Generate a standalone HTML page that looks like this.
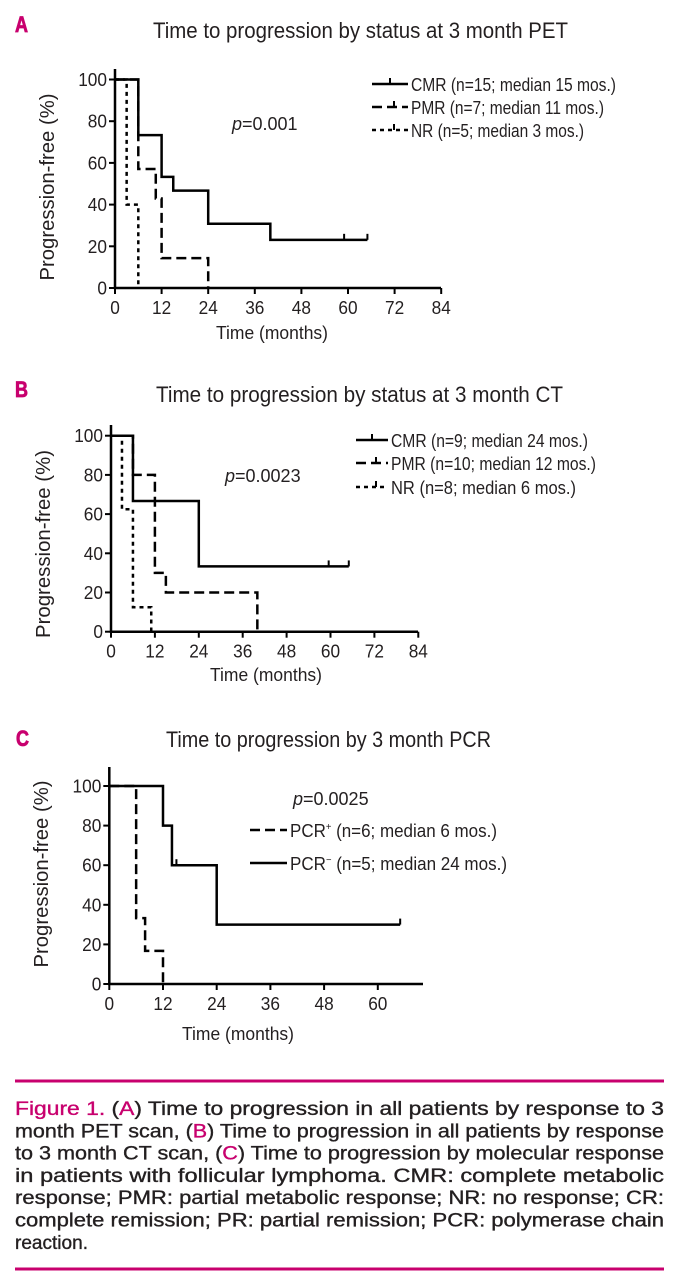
<!DOCTYPE html>
<html><head><meta charset="utf-8"><style>
html,body{margin:0;padding:0;background:#fff;}
svg{display:block;font-family:"Liberation Sans Narrow","Liberation Sans",sans-serif;}
</style></head><body>
<svg id="fig" width="679" height="1280" viewBox="0 0 679 1280" xmlns="http://www.w3.org/2000/svg"></svg>
<script>
// ---- data ----
const yTicks = [0,20,40,60,80,100];
const xTicksAB = [0,12,24,36,48,60,72,84];
const xTicksC = [0,12,24,36,48,60];
// Panel A
const aCmrT = [6,12,15,24,40];   const aCmrS = [73.3,53.3,46.7,30.8,23.1]; const aCmrEnd = 65; const aCmrCens = [59,65];
const aPmrT = [6,10.5,12,24];    const aPmrS = [57.1,42.9,14.3,0];
const aNrT  = [3,6];             const aNrS  = [40,0];
// Panel B
const bCmrT = [6,24];            const bCmrS = [66.7,33.3]; const bCmrEnd = 65; const bCmrCens = [59.5,65];
const bPmrT = [6,12,15,40];      const bPmrS = [80,30,20,0];
const bNrT  = [3,6,11];          const bNrS  = [62.5,12.5,0];
// Panel C
const cNegT = [12,14,24];        const cNegS = [80,60,30]; const cNegEnd = 65; const cNegCens = [15,65];
const cPosT = [6,8,12];          const cPosS = [33.3,16.7,0];

const NS="http://www.w3.org/2000/svg";
const svg=document.getElementById('fig');
function el(tag,attrs,parent){const e=document.createElementNS(NS,tag);for(const k in attrs)e.setAttribute(k,attrs[k]);(parent||svg).appendChild(e);return e;}
function txt(s,x,y,size,len,opts,parent){opts=opts||{};const e=el('text',{x:x,y:y,'font-size':size,fill:opts.fill||'#231f20'},parent);
  if(len){e.setAttribute('textLength',len);e.setAttribute('lengthAdjust','spacingAndGlyphs');}
  if(opts.anchor)e.setAttribute('text-anchor',opts.anchor);
  if(opts.weight)e.setAttribute('font-weight',opts.weight);
  if(opts.transform)e.setAttribute('transform',opts.transform);
  e.textContent=s;return e;}
const MAG='#c8006e';

function panel(cfg){
  const g=el('g',{});
  
  
  const X=t=>cfg.ox+t*cfg.per12/12;
  const Y=v=>cfg.y0-(cfg.y0-cfg.y100)*v/100;
  const L=txt(cfg.letter,cfg.lx,cfg.ly,22,13,{fill:MAG,weight:'bold'},g);
  L.setAttribute('stroke',MAG);L.setAttribute('stroke-width','0.8');
  
  
  const T=txt(cfg.title,cfg.tx,cfg.ty,22,cfg.tlen,{},g);
  
  
  const ax=el('path',{d:`M${cfg.ox},${cfg.axTop} V${cfg.y0} H${cfg.axRight}`,stroke:'#000','stroke-width':2.5,fill:'none'},g);
  
  
  yTicks.forEach(v=>{
    el('line',{x1:cfg.ox-6,x2:cfg.ox,y1:Y(v),y2:Y(v),stroke:'#000','stroke-width':2},g);
    const s=String(v);const t=txt(s,cfg.ox-8,Y(v)+6.5,18,s.length*9.6,{anchor:'end'},g);
    
    
  });
  cfg.xt.forEach(v=>{
    el('line',{x1:X(v),x2:X(v),y1:cfg.y0,y2:cfg.y0+6,stroke:'#000','stroke-width':2},g);
    const s=String(v);const t=txt(s,X(v),cfg.y0+26,18,s.length*9.6,{anchor:'middle'},g);
    
    
  });
  const xt=txt('Time (months)',cfg.xtx,cfg.xty,18,112,{anchor:'middle'},g);
  
  
  const yt=txt('Progression-free (%)',0,0,20,cfg.ytlen,{anchor:'middle',transform:`translate(${cfg.ytx},${cfg.yty}) rotate(-90)`},g);
  
  
  const p=el('text',{x:cfg.px,y:cfg.py,'font-size':18,fill:'#231f20'},g);
  
  
  const pi=el('tspan',{'font-style':'italic'},p);pi.textContent='p';
  const pr=el('tspan',{},p);pr.textContent=cfg.p;
  cfg.series.forEach(s=>{
    let d=`M${X(0)},${Y(100)}`;
    s.t.forEach((t,i)=>{d+=` H${X(t)} V${Y(s.s[i])}`;});
    if(s.end&&s.end>s.t[s.t.length-1])d+=` H${X(s.end)}`;
    const path=el('path',{d:d,stroke:'#000','stroke-width':2.5,fill:'none'},g);
    if(s.dash)path.setAttribute('stroke-dasharray',s.dash);
    
    
    (s.cens||[]).forEach(c=>{
      let lvl=100;s.t.forEach((t,i)=>{if(t<=c)lvl=s.s[i];});
      const m=el('line',{x1:X(c),x2:X(c),y1:Y(lvl),y2:Y(lvl)-6,stroke:'#000','stroke-width':2},g);
      
      
    });
    const lg=el('g',{},g);
    
    
    const ly=s.ly;
    const ll=el('line',{x1:cfg.lgx1,x2:cfg.lgx2,y1:ly-7,y2:ly-7,stroke:'#000','stroke-width':2.5},lg);
    if(s.dash)ll.setAttribute('stroke-dasharray',s.dash);
    if(s.lgTick)el('line',{x1:(cfg.lgx1+cfg.lgx2)/2+(s.dash?4:0),x2:(cfg.lgx1+cfg.lgx2)/2+(s.dash?4:0),y1:ly-7,y2:ly-13,stroke:'#000','stroke-width':2},lg);
    const lt=el('text',{x:cfg.lgx2+3,y:ly,'font-size':18,fill:'#231f20',textLength:s.llen,lengthAdjust:'spacingAndGlyphs'},lg);
    if(s.sup){const a=el('tspan',{},lt);a.textContent='PCR';const b=el('tspan',{'font-size':10,dy:-7},lt);b.textContent=s.sup;const c=el('tspan',{dy:7},lt);c.textContent=s.label;}
    else lt.textContent=s.label;
  });
}

panel({name:'panel-a',letter:'A',lx:15,ly:32,title:'Time to progression by status at 3 month PET',tx:153,ty:38,tlen:415,
  ox:115,y0:288,y100:79.5,per12:46.6,axTop:69,axRight:441,xt:xTicksAB,xtx:272,xty:339,ytx:54,yty:187,ytlen:187,
  px:232,py:130,p:'=0.001',lgx1:372,lgx2:408,
  series:[
    {name:'cmr-curve',t:aCmrT,s:aCmrS,end:aCmrEnd,cens:aCmrCens,ly:91,label:'CMR (n=15; median 15 mos.)',llen:205,lgTick:true},
    {name:'pmr-curve',t:aPmrT,s:aPmrS,dash:'10,5',ly:114,label:'PMR (n=7; median 11 mos.)',llen:193,lgTick:true},
    {name:'nr-curve',t:aNrT,s:aNrS,dash:'4,4',ly:137,label:'NR (n=5; median 3 mos.)',llen:173,lgTick:true}
  ]});
panel({name:'panel-b',letter:'B',lx:15,ly:397,title:'Time to progression by status at 3 month CT',tx:156,ty:402,tlen:407,
  ox:111,y0:631.7,y100:435.7,per12:43.9,axTop:425,axRight:418,xt:xTicksAB,xtx:266,xty:681,ytx:50,yty:544,ytlen:188,
  px:225,py:482,p:'=0.0023',lgx1:356,lgx2:388,
  series:[
    {name:'cmr-curve',t:bCmrT,s:bCmrS,end:bCmrEnd,cens:bCmrCens,ly:447,label:'CMR (n=9; median 24 mos.)',llen:197,lgTick:true},
    {name:'pmr-curve',t:bPmrT,s:bPmrS,dash:'10,5',ly:470,label:'PMR (n=10; median 12 mos.)',llen:205,lgTick:true},
    {name:'nr-curve',t:bNrT,s:bNrS,dash:'4,4',ly:494,label:'NR (n=8; median 6 mos.)',llen:185,lgTick:true}
  ]});
panel({name:'panel-c',letter:'C',lx:16,ly:746,title:'Time to progression by 3 month PCR',tx:166,ty:747,tlen:325,
  ox:109.3,y0:984,y100:786,per12:53.7,axTop:767,axRight:423,xt:xTicksC,xtx:238,xty:1040,ytx:48,yty:874,ytlen:187,
  px:293,py:805,p:'=0.0025',lgx1:250,lgx2:287,
  series:[
    {name:'pcr-positive-curve',t:cPosT,s:cPosS,dash:'10,5',ly:837,sup:'+',label:' (n=6; median 6 mos.)',llen:207},
    {name:'pcr-negative-curve',t:cNegT,s:cNegS,end:cNegEnd,cens:cNegCens,ly:870,sup:'\u2212',label:' (n=5; median 24 mos.)',llen:217}
  ]});

const cap=el('g',{});


const r1=el('rect',{x:15,y:1079.5,width:649,height:3,fill:MAG},cap);


const r2=el('rect',{x:15,y:1267.5,width:649,height:3,fill:MAG},cap);


const lines=[
 [['Figure 1. ',1],['(',0],['A',1],[') Time to progression in all patients by response to 3',0]],
 [['month PET scan, (',0],['B',1],[') Time to progression in all patients by response',0]],
 [['to 3 month CT scan, (',0],['C',1],[') Time to progression by molecular response',0]],
 [['in patients with follicular lymphoma. CMR: complete metabolic',0]],
 [['response; PMR: partial metabolic response; NR: no response; CR:',0]],
 [['complete remission; PR: partial remission; PCR: polymerase chain',0]],
 [['reaction.',0]]
];
lines.forEach((ln,i)=>{
  const t=el('text',{x:15,y:1115+i*22.3,'font-size':19,fill:'#231f20',stroke:'#231f20','stroke-width':0.35},cap);
  t.setAttribute('textLength',i<6?649:73);
  t.setAttribute('lengthAdjust','spacingAndGlyphs');
  ln.forEach(p=>{const s=el('tspan',{},t);if(p[1]){s.setAttribute('fill',MAG);s.setAttribute('stroke',MAG);}s.textContent=p[0];});
});
</script>
</body></html>
